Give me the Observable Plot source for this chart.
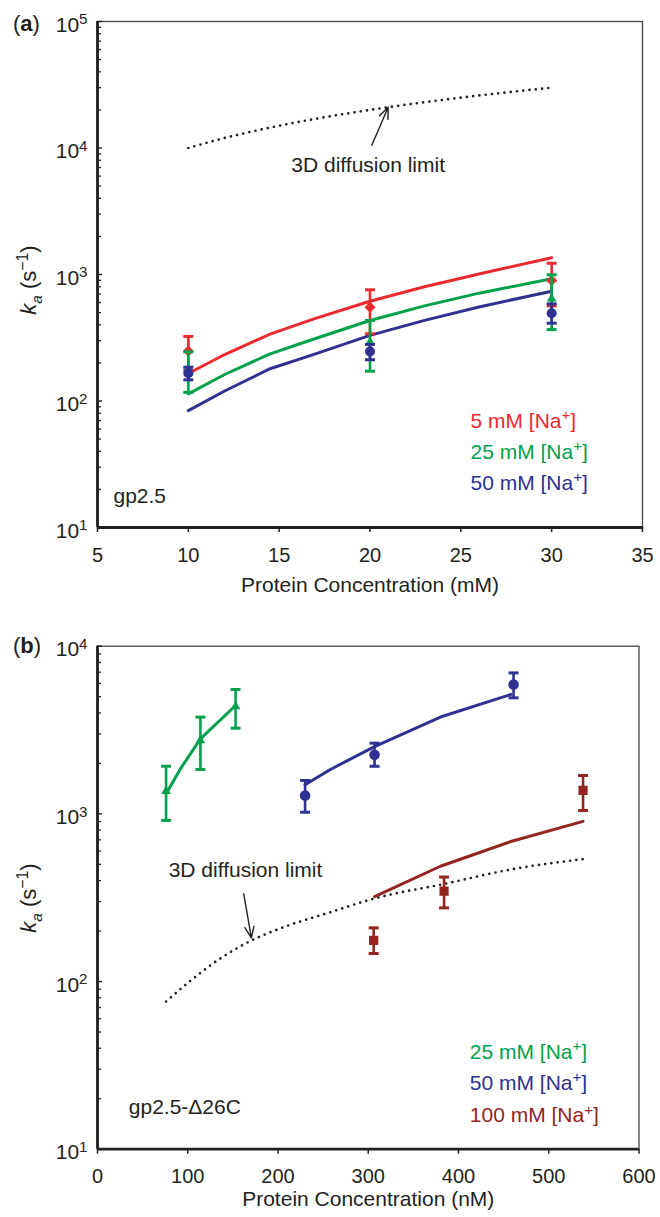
<!DOCTYPE html>
<html><head><meta charset="utf-8">
<script src="https://cdn.jsdelivr.net/npm/d3@7"></script>
<script src="https://cdn.jsdelivr.net/npm/@observablehq/plot@0.6"></script>
<style>
body{margin:0;background:#fff;}
#wrap{position:relative;width:660px;height:1217px;background:#fff;overflow:hidden;}
</style></head><body><div id="wrap"></div>
<script>
const INK = "#231f20";
const RED = "#ec2a2e", GREEN = "#00a14b", BLUE = "#2e3192", DARKRED = "#93241f";
const FONT = '"Liberation Sans", Arial, Helvetica, sans-serif';

// ---------- Panel (a) data ----------
const xDomainA = [5, 35];
const yDomainA = [10, 1e5];
const xTicksA = [5, 10, 15, 20, 25, 30, 35];
const yTicksA = [1e1, 1e2, 1e3, 1e4, 1e5];
const yTickLabelsA = ["10^{1}", "10^{2}", "10^{3}", "10^{4}", "10^{5}"];
const decadesA = [10, 100, 1000, 10000];
const diffXA = [10, 12, 14, 16, 18, 20, 22, 24, 26, 28, 30];
const diffKA = [10000, 12000, 14000, 16000, 18000, 20000, 22000, 24000, 26000, 28000, 30000];
const fitXA = [10, 12, 14.5, 17, 20, 23, 26, 30];
const fit5A = [165, 233, 338, 450, 615, 800, 1010, 1355];
const fit25A = [114, 162, 236, 312, 433, 565, 712, 925];
const fit50A = [84, 120, 180, 236, 330, 434, 554, 738];
const ptXA = [10, 20, 30];
const pt5A = [248, 552, 897], lo5A = [175, 340, 565], hi5A = [324, 757, 1228];
const pt25A = [180, 292, 643], lo25A = [117, 172, 367], hi25A = [245, 433, 995];
const pt50A = [166, 246, 494], lo50A = [147, 212, 412], hi50A = [185, 280, 586];
const arrowA = [{x1: 20.1, y1: 10500, x2: 21.0, y2: 21000}];
const noteA = [{x: 19.9, k: 7280, text: "3D diffusion limit"}];
const legendA = ["5 mM [Na^{+}]", "25 mM [Na^{+}]", "50 mM [Na^{+}]"];
const legendColorsA = [RED, GREEN, BLUE];

// ---------- Panel (b) data ----------
const xDomainB = [0, 600];
const yDomainB = [10, 1e4];
const xTicksB = [0, 100, 200, 300, 400, 500, 600];
const yTicksB = [1e1, 1e2, 1e3, 1e4];
const yTickLabelsB = ["10^{1}", "10^{2}", "10^{3}", "10^{4}"];
const decadesB = [10, 100, 1000];
const diffXB = [76, 100, 135, 170, 200, 258, 306, 385, 460, 538];
const diffKB = [76, 98, 136, 175, 205, 259, 312, 383, 468, 537];
const fitX25B = [76, 92, 114, 153];
const fit25B = [1320, 1860, 2800, 4430];
const fitX50B = [230, 258, 307, 380, 458];
const fit50B = [1490, 1840, 2520, 3780, 5150];
const fitX100B = [307, 380, 458, 538];
const fit100B = [321, 487, 684, 902];
const ptX25B = [76, 114, 153], pt25B = [1365, 2742, 4365], lo25B = [914, 1841, 3244], hi25B = [1923, 3776, 5517];
const ptX50B = [230, 307, 461], pt50B = [1288, 2250, 5913], lo50B = [1023, 1923, 4922], hi50B = [1582, 2641, 6931];
const ptX100B = [306, 384, 538], pt100B = [176, 346, 1381], lo100B = [147, 275, 1047], hi100B = [209, 420, 1693];
const arrowB = [{x1: 162, y1: 334, x2: 170.5, y2: 182}];
const noteB = [{x: 164, k: 462, text: "3D diffusion limit"}];
const legendB = ["25 mM [Na^{+}]", "50 mM [Na^{+}]", "100 mM [Na^{+}]"];
const legendColorsB = [GREEN, BLUE, DARKRED];
const minorMult = [2, 3, 4, 5, 6, 7, 8, 9];

// ---------- helpers ----------
const xy = (xs, ks) => xs.map((x, i) => ({x, k: ks[i]}));
const eb = (xs, ks, lo, hi) => xs.map((x, i) => ({x, k: ks[i], lo: lo[i], hi: hi[i]}));
const cap = {draw(ctx, size) { const w = Math.sqrt(size / Math.PI); ctx.moveTo(-w, 0); ctx.lineTo(w, 0); }};

function seriesMarks(pts, color, symbol, r) {
  return [
    Plot.ruleX(pts, {x: "x", y1: "lo", y2: "hi", stroke: color, strokeWidth: 2.6}),
    Plot.dot(pts, {x: "x", y: "lo", symbol: cap, r: 5, stroke: color, fill: "none", strokeWidth: 3}),
    Plot.dot(pts, {x: "x", y: "hi", symbol: cap, r: 5, stroke: color, fill: "none", strokeWidth: 3}),
    Plot.dot(pts, {x: "x", y: "k", symbol, r, fill: color, stroke: "none"})
  ];
}

function panel({top, height, mt, mb, mr, xDomain, yDomain, xTicks, yTicks, yLabels, decades,
                diff, fits, series, arrow, note, legend, legendColors, legendDx, legendDy,
                tag, tagDx, tagDy, xLabel, xLabelDy}) {
  const frameW = 660 - 97 - mr;
  const minor = decades.flatMap(d => minorMult.map(m => d * m));
  return Plot.plot({
    width: 660, height,
    marginLeft: 97, marginRight: mr, marginTop: mt, marginBottom: mb,
    style: {fontFamily: FONT, fontSize: "20px", color: INK, background: "transparent",
            position: "absolute", left: "0px", top: top + "px", overflow: "visible"},
    x: {domain: xDomain, label: null},
    y: {type: "log", domain: yDomain, label: null},
    marks: [
      Plot.frame({stroke: "#444", strokeWidth: 1.3}),
      Plot.tickY(minor, {y: d => d, insetRight: frameW - 4, stroke: INK, strokeWidth: 1.3}),
      Plot.tickY(yTicks, {y: d => d, insetRight: frameW - 5, stroke: INK, strokeWidth: 1.4}),
      Plot.line(diff, {x: "x", y: "k", stroke: INK, strokeWidth: 2.7, strokeDasharray: "0 6.3", strokeLinecap: "round", curve: "monotone-x"}),
      ...fits.map(([d, c]) => Plot.line(d, {x: "x", y: "k", stroke: c, strokeWidth: 3})),
      ...series.flatMap(([d, c, s, r]) => seriesMarks(d, c, s, r)),
      Plot.arrow(arrow, {x1: "x1", y1: "y1", x2: "x2", y2: "y2", stroke: INK, strokeWidth: 1.4, headLength: 13, headAngle: 45}),
      Plot.text(note, {x: "x", y: "k", text: "text", fill: INK, fontSize: 21}),
      ...legend.map((t, i) => Plot.text([t], {text: d => d, frameAnchor: "bottom-left", textAnchor: "start",
          dx: legendDx, dy: legendDy[i], fill: legendColors[i], fontSize: 21})),
      Plot.text([tag], {text: d => d, frameAnchor: "bottom-left", textAnchor: "start", dx: tagDx, dy: tagDy, fill: INK, fontSize: 21}),
      Plot.text([xLabel], {text: d => d, frameAnchor: "bottom", dy: xLabelDy, fill: INK, fontSize: 21}),
      Plot.axisX({ticks: xTicks, tickSize: 5, tickPadding: 15, label: null, strokeWidth: 1.5, fontSize: 20}),
      Plot.axisY({ticks: yTicks, tickSize: 0, tickPadding: 10, label: null, dy: 3.5, fontSize: 21,
                  tickFormat: d => yLabels[yTicks.indexOf(d)]}),
      Plot.ruleX([xDomain[0]], {stroke: INK, strokeWidth: 2.8}),
      Plot.ruleY([yDomain[0]], {stroke: INK, strokeWidth: 2.8})
    ]
  });
}

// Rich text: ^{sup}, _{sub}, ~{italic}, !{bold}, `{italic sub}
function rich(svg) {
  const NS = "http://www.w3.org/2000/svg";
  svg.querySelectorAll("text").forEach(t => {
    const s = t.textContent;
    if (!/[\^_~!`]\{/.test(s)) return;
    const fsz = parseFloat(getComputedStyle(t).fontSize);
    const parts = s.split(/([\^_~!`]\{[^}]*\})/);
    while (t.firstChild) t.removeChild(t.firstChild);
    let shift = 0;
    for (const p of parts) {
      if (!p) continue;
      const m = p.match(/^([\^_~!`])\{([^}]*)\}$/);
      const ts = document.createElementNS(NS, "tspan");
      if (m && (m[1] === "^" || m[1] === "_" || m[1] === "`")) {
        const target = m[1] === "^" ? -0.36 * fsz : 0.26 * fsz;
        ts.setAttribute("dy", target - shift); shift = target;
        ts.setAttribute("font-size", (m[1] === "^" ? 0.72 : 0.7) * fsz);
        if (m[1] === "`") ts.setAttribute("font-style", "italic");
        ts.textContent = m[2];
      } else {
        if (shift) { ts.setAttribute("dy", -shift); shift = 0; }
        if (m && m[1] === "~") { ts.setAttribute("font-style", "italic"); ts.textContent = m[2]; }
        else if (m && m[1] === "!") { ts.setAttribute("font-weight", "bold"); ts.textContent = m[2]; }
        else ts.textContent = p;
      }
      t.appendChild(ts);
    }
  });
}

function addText(svg, {x, y, rotate = 0, anchor = "start", size = 21, text}) {
  d3.select(svg).append("text")
    .attr("transform", `translate(${x},${y}) rotate(${rotate})`)
    .attr("text-anchor", anchor).attr("font-size", size).attr("fill", INK)
    .text(text);
}

const wrap = document.getElementById("wrap");

const svgA = panel({
  top: 0, height: 610, mt: 21, mb: 83, mr: 18,
  xDomain: xDomainA, yDomain: yDomainA, xTicks: xTicksA, yTicks: yTicksA, yLabels: yTickLabelsA, decades: decadesA,
  diff: xy(diffXA, diffKA),
  fits: [[xy(fitXA, fit5A), RED], [xy(fitXA, fit25A), GREEN], [xy(fitXA, fit50A), BLUE]],
  series: [[eb(ptXA, pt5A, lo5A, hi5A), RED, "diamond2", 5],
           [eb(ptXA, pt25A, lo25A, hi25A), GREEN, "triangle", 3.6],
           [eb(ptXA, pt50A, lo50A, hi50A), BLUE, "circle", 5]],
  arrow: arrowA, note: noteA, legend: legendA, legendColors: legendColorsA,
  legendDx: 373, legendDy: [-99.7, -68.7, -37.7],
  tag: "gp2.5", tagDx: 16, tagDy: -24.7,
  xLabel: "Protein Concentration (mM)", xLabelDy: 64
});
wrap.appendChild(svgA);
addText(svgA, {x: 36, y: 280, rotate: -90, anchor: "middle", size: 22, text: "~{k}`{a} (s^{−1})"});
addText(svgA, {x: 13, y: 31, size: 22, text: "(!{a})"});
rich(svgA);

const svgB = panel({
  top: 610, height: 607, mt: 35.7, mb: 68.3, mr: 21.5,
  xDomain: xDomainB, yDomain: yDomainB, xTicks: xTicksB, yTicks: yTicksB, yLabels: yTickLabelsB, decades: decadesB,
  diff: xy(diffXB, diffKB),
  fits: [[xy(fitX25B, fit25B), GREEN], [xy(fitX50B, fit50B), BLUE], [xy(fitX100B, fit100B), DARKRED]],
  series: [[eb(ptX25B, pt25B, lo25B, hi25B), GREEN, "triangle", 3.6],
           [eb(ptX50B, pt50B, lo50B, hi50B), BLUE, "circle", 5.3],
           [eb(ptX100B, pt100B, lo100B, hi100B), DARKRED, "square", 5.2]],
  arrow: arrowB, note: noteB, legend: legendB, legendColors: legendColorsB,
  legendDx: 372.3, legendDy: [-90.4, -59.7, -27.1],
  tag: "gp2.5-Δ26C", tagDx: 31.3, tagDy: -35.4,
  xLabel: "Protein Concentration (nM)", xLabelDy: 56.6
});
wrap.appendChild(svgB);
addText(svgB, {x: 36, y: 288, rotate: -90, anchor: "middle", size: 22, text: "~{k}`{a} (s^{−1})"});
addText(svgB, {x: 13, y: 43, size: 22, text: "(!{b})"});
rich(svgB);
</script>
</body></html>
